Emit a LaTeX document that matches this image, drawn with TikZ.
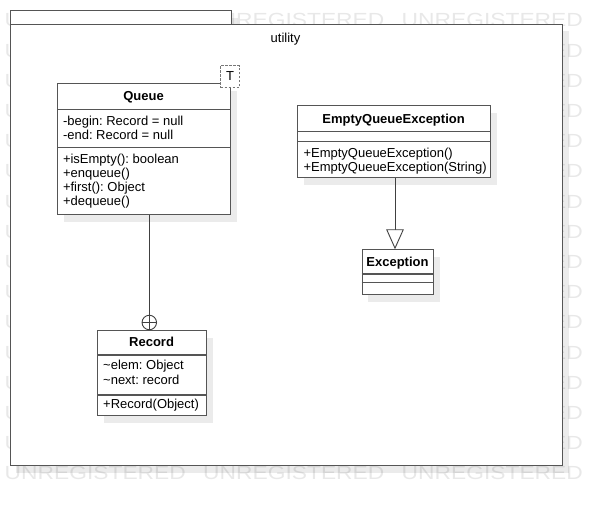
\documentclass[tikz,border=0pt]{standalone}
\usepackage{fontspec}
\setmainfont{Liberation Sans}
\usetikzlibrary{arrows.meta,shadows}
\frenchspacing

\definecolor{edge}{HTML}{555555}
\definecolor{link}{HTML}{404040}
\definecolor{wmark}{HTML}{E8E8E8}

\tikzset{
  boxshadow/.style={drop shadow={shadow xshift=6pt, shadow yshift=-7pt, fill=black, opacity=0.08}},
  pkgbox/.style={draw=edge, line width=1.4pt, fill=white, inner sep=0, anchor=north west, boxshadow},
  classbox/.style={draw=edge, line width=1.1pt, fill=white, inner sep=0, anchor=north west, boxshadow},
  divider/.style={draw=edge, line width=1.1pt},
  member/.style={inner sep=0, anchor=west, text height=9.3pt, text depth=0pt, font=\fontsize{13}{15}\selectfont},
  classname/.style={member, anchor=center, font=\fontsize{13}{15}\selectfont\bfseries},
  pkgname/.style={member, anchor=center},
  wm/.style={inner sep=0, anchor=west, text=wmark, text height=13.6pt, text depth=0pt, font=\fontsize{19}{19}\selectfont},
  connector/.style={draw=link, line width=0.9pt},
  tparam/.style={draw=edge!80, dash pattern=on 2.5pt off 1.5pt, line width=0.9pt, fill=white, inner sep=0,
    minimum width=18.6pt, minimum height=22pt, font=\fontsize{13}{15}\selectfont},
}

\begin{document}
\begin{tikzpicture}[x=1pt,y=-1pt]
\useasboundingbox (0,0) rectangle (602,506);

% tiled evaluation banner
\foreach \r in {0,...,15}{
  \foreach \c in {0,...,2}{
    \node[wm] (wm-\r-\c) at ({4.5+198.5*\c},{20+30.2*\r}) {\scalebox{1.2}[1]{UNREGISTERED}};
  }
}

% package "utility": tab and body
\node[pkgbox, minimum width=221.5pt, minimum height=13.7pt] (pkgtab) at (9.5,10) {};
\node[pkgbox, minimum width=552.5pt, minimum height=441.3pt] (pkg) at (9.5,23.7) {};
\node[pkgname] (pkglabel) at (285.5,38) {utility};

% class Queue
\node[classbox, minimum width=172.7pt, minimum height=130.7pt] (queue) at (57.3,83.3) {};
\draw[divider] (queue.west |- 0,109.3) -- (queue.east |- 0,109.3);
\draw[divider] (queue.west |- 0,147.3) -- (queue.east |- 0,147.3);
\node[classname] (q-title) at (143.6,95.8) {Queue};
\node[member] (q-a1) at (62.8,120.5) {-begin: Record = null};
\node[member] (q-a2) at (62.8,134.5) {-end: Record = null};
\node[member] (q-m1) at (62.8,158.5) {+isEmpty(): boolean};
\node[member] (q-m2) at (62.8,172.5) {+enqueue()};
\node[member] (q-m3) at (62.8,186.5) {+first(): Object};
\node[member] (q-m4) at (62.8,200.5) {+dequeue()};
\node[tparam] (q-T) at (230,76.5) {T};

% class Record
\node[classbox, minimum width=108.7pt, minimum height=85pt] (record) at (97.3,330) {};
\draw[divider] (record.west |- 0,355) -- (record.east |- 0,355);
\draw[divider] (record.west |- 0,395) -- (record.east |- 0,395);
\node[classname] (r-title) at (151.6,342) {Record};
\node[member] (r-a1) at (103,365.3) {\char`\~elem: Object};
\node[member] (r-a2) at (103,380) {\char`\~next: record};
\node[member] (r-m1) at (103,404) {+Record(Object)};

% class EmptyQueueException
\node[classbox, minimum width=192.7pt, minimum height=72.3pt] (eqe) at (297.3,105) {};
\draw[divider] (eqe.west |- 0,131.7) -- (eqe.east |- 0,131.7);
\draw[divider] (eqe.west |- 0,141.7) -- (eqe.east |- 0,141.7);
\node[classname] (e-title) at (393.6,118.7) {EmptyQueueException};
\node[member] (e-m1) at (303.3,152.5) {+EmptyQueueException()};
\node[member] (e-m2) at (303.3,166.7) {+EmptyQueueException(String)};

% class Exception
\node[classbox, minimum width=71.6pt, minimum height=44.7pt] (exc) at (361.7,249.3) {};
\draw[divider] (exc.west |- 0,274) -- (exc.east |- 0,274);
\draw[divider] (exc.west |- 0,282.7) -- (exc.east |- 0,282.7);
\node[classname] (x-title) at (397.5,262.3) {Exception};

% nesting: Record is an inner class of Queue
\node[circle, draw=link, line width=0.9pt, fill=white, minimum size=14.5pt, inner sep=0] (nest) at (149.3,322.5) {};
\draw[connector] (nest.north) -- (nest.south);
\draw[connector] (nest.west) -- (nest.east);
\draw[connector] (queue.south -| nest.north) -- (nest.north);

% generalization: EmptyQueueException extends Exception
\coordinate (genx) at (395,0);
\draw[connector, -{Triangle[open, length=20pt, width=17.6pt, fill=white]}]
  (eqe.south -| genx) -- (exc.north -| genx);
\end{tikzpicture}
\end{document}
